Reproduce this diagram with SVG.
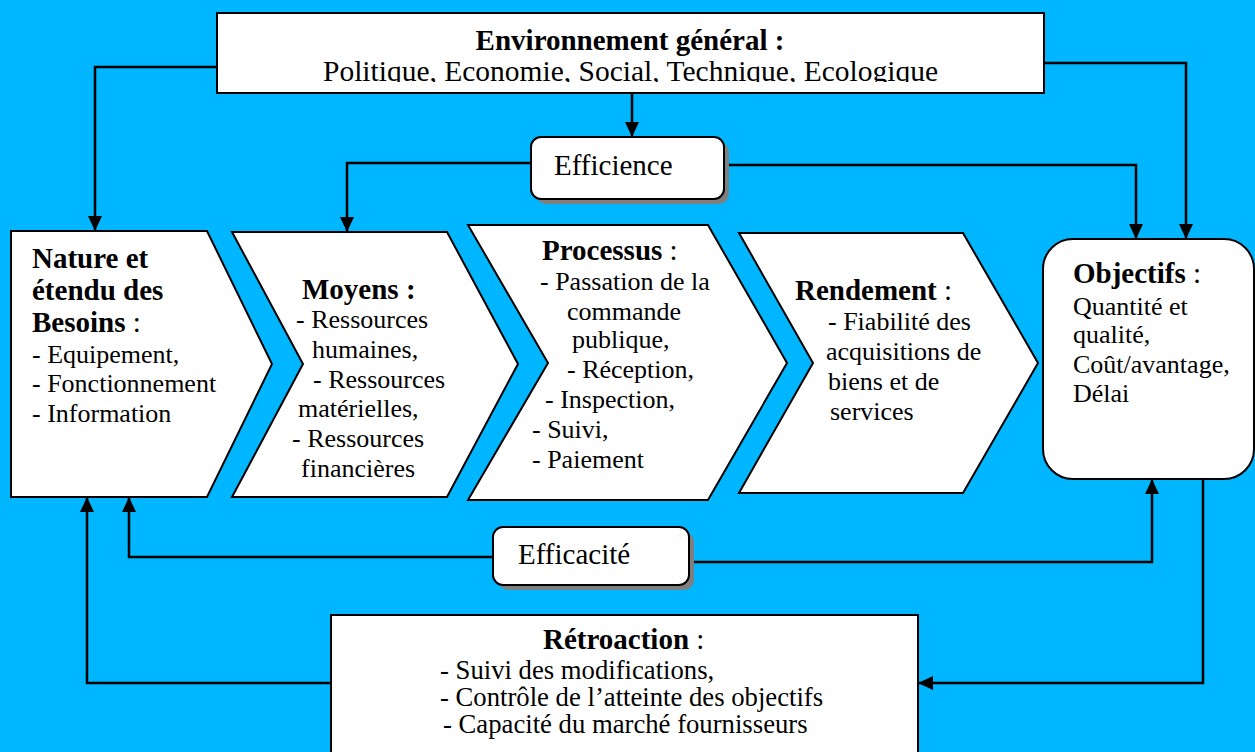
<svg xmlns="http://www.w3.org/2000/svg" width="1255" height="752" viewBox="0 0 1255 752">
  <defs>
    <style>
      text { font-family: "Liberation Serif", "Times New Roman", serif; fill: #000; }
      .t29 { font-size: 29px; }
      .t26 { font-size: 26px; }
      .t27 { font-size: 26.7px; }
      .b { font-weight: bold; }
      .shape { fill: #fff; stroke: #000; stroke-width: 2; }
      .shadow { fill: #7f7f7f; }
      .conn { fill: none; stroke: #000; stroke-width: 2.5; }
    </style>
    <marker id="arrow" viewBox="0 0 15 14" refX="15" refY="7" markerWidth="15" markerHeight="14" markerUnits="userSpaceOnUse" orient="auto">
      <path d="M0,0 L15,7 L0,14 Z" fill="#000"/>
    </marker>
    <clipPath id="envClip">
      <rect x="210" y="10" width="840" height="72"/>
    </clipPath>
  </defs>

  <rect width="1255" height="752" fill="#00b7ff"/>

  <!-- connectors -->
  <g id="connectors">
    <polyline class="conn" points="217,67 95,67 95,231" marker-end="url(#arrow)"/>
    <polyline class="conn" points="1044,63 1186,63 1186,239" marker-end="url(#arrow)"/>
    <polyline class="conn" points="632,93 632,137" marker-end="url(#arrow)"/>
    <polyline class="conn" points="531,163 347,163 347,232" marker-end="url(#arrow)"/>
    <polyline class="conn" points="724,165 1136,165 1136,239" marker-end="url(#arrow)"/>
    <polyline class="conn" points="493,557 129,557 129,497" marker-end="url(#arrow)"/>
    <polyline class="conn" points="689,562 1152,562 1152,479" marker-end="url(#arrow)"/>
    <polyline class="conn" points="1203,479 1203,683 918,683" marker-end="url(#arrow)"/>
    <polyline class="conn" points="331,683 87,683 87,497" marker-end="url(#arrow)"/>
  </g>

  <!-- general environment -->
  <g id="environnement">
    <rect class="shape" x="217" y="13" width="827" height="80"/>
    <text class="t29 b" x="630" y="50" text-anchor="middle">Environnement général :</text>
    <text class="t29" x="323" y="81" textLength="615" lengthAdjust="spacingAndGlyphs" clip-path="url(#envClip)">Politique, Economie, Social, Technique, Ecologique</text>
  </g>

  <!-- efficiency label -->
  <g id="efficience">
    <rect class="shadow" x="536" y="142" width="193" height="62" rx="10"/>
    <rect class="shape" x="531" y="137" width="193" height="62" rx="10"/>
    <text class="t29" x="554" y="175">Efficience</text>
  </g>

  <!-- needs -->
  <g id="besoins">
    <polygon class="shape" points="11,231 207,231 272,364 207,497 11,497"/>
    <text class="t29 b" x="32" y="268">Nature et</text>
    <text class="t29 b" x="32" y="300">étendu des</text>
    <text class="t29" x="32" y="332"><tspan class="b">Besoins</tspan> :</text>
    <text class="t26" x="32" y="363">- Equipement,</text>
    <text class="t26" x="32" y="392">- Fonctionnement</text>
    <text class="t26" x="32" y="422">- Information</text>
  </g>

  <!-- means -->
  <g id="moyens">
    <polygon class="shape" points="232,232 447,232 518,364 447,497 232,497 303,364"/>
    <text class="t29 b" x="302" y="299">Moyens :</text>
    <text class="t26" x="296" y="328">- Ressources</text>
    <text class="t26" x="312" y="358">humaines,</text>
    <text class="t26" x="313" y="388">- Ressources</text>
    <text class="t26" x="298" y="417">matérielles,</text>
    <text class="t26" x="292" y="447">- Ressources</text>
    <text class="t26" x="301" y="477">financières</text>
  </g>

  <!-- process -->
  <g id="processus">
    <polygon class="shape" points="468,225 708,225 787,363 708,500 468,500 548,363"/>
    <text class="t29" x="542" y="260"><tspan class="b">Processus</tspan> :</text>
    <text class="t26" x="540" y="290">- Passation de la</text>
    <text class="t26" x="567" y="320">commande</text>
    <text class="t26" x="572" y="348">publique,</text>
    <text class="t26" x="567" y="378">- Réception,</text>
    <text class="t26" x="545" y="408">- Inspection,</text>
    <text class="t26" x="532" y="438">- Suivi,</text>
    <text class="t26" x="532" y="468">- Paiement</text>
  </g>

  <!-- output -->
  <g id="rendement">
    <polygon class="shape" points="739,233 963,233 1038,363 963,493 739,493 813,363"/>
    <text class="t29" x="795" y="300"><tspan class="b">Rendement</tspan> :</text>
    <text class="t26" x="828" y="330">- Fiabilité des</text>
    <text class="t26" x="826" y="360">acquisitions de</text>
    <text class="t26" x="828" y="390">biens et de</text>
    <text class="t26" x="830" y="420">services</text>
  </g>

  <!-- objectives -->
  <g id="objectifs">
    <rect class="shape" x="1043" y="239" width="211" height="240" rx="30"/>
    <text class="t29" x="1073" y="283"><tspan class="b">Objectifs</tspan> :</text>
    <text class="t26" x="1073" y="315">Quantité et</text>
    <text class="t26" x="1073" y="343">qualité,</text>
    <text class="t26" x="1073" y="373">Coût/avantage,</text>
    <text class="t26" x="1073" y="402">Délai</text>
  </g>

  <!-- effectiveness label -->
  <g id="efficacite">
    <rect class="shadow" x="498" y="532" width="196" height="58" rx="10"/>
    <rect class="shape" x="493" y="527" width="196" height="58" rx="10"/>
    <text class="t29" x="518" y="564">Efficacité</text>
  </g>

  <!-- feedback -->
  <g id="retroaction">
    <rect class="shape" x="331" y="615" width="587" height="150"/>
    <text class="t29" x="543" y="649"><tspan class="b">Rétroaction</tspan> :</text>
    <text class="t27" x="440" y="679">- Suivi des modifications,</text>
    <text class="t27" x="440" y="706">- Contrôle de l’atteinte des objectifs</text>
    <text class="t27" x="443" y="733">- Capacité du marché fournisseurs</text>
  </g>
</svg>
